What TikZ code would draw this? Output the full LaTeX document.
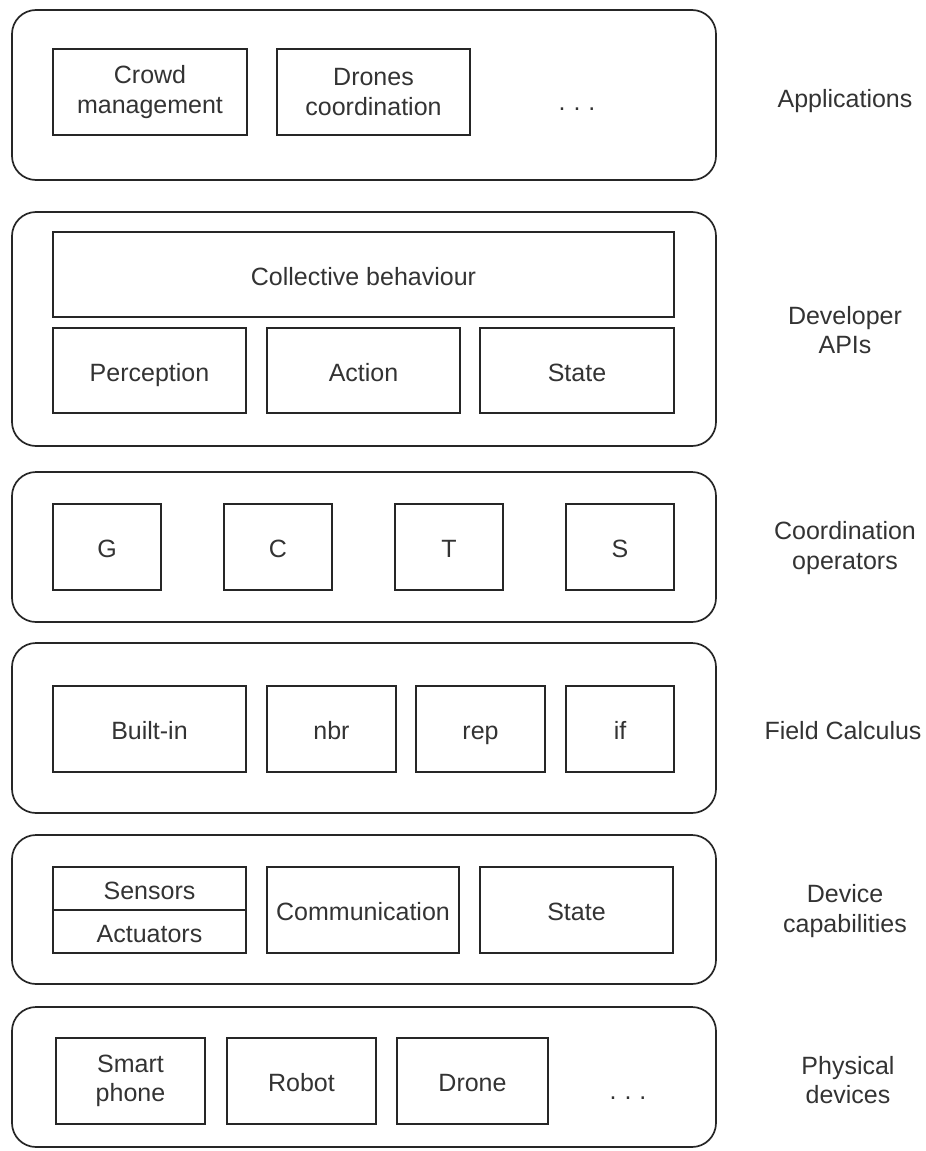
\documentclass[tikz,border=0pt]{standalone}
\usepackage{fontspec}
\setmainfont{Liberation Sans}
\begin{document}
\begin{tikzpicture}[x=1pt,y=-1pt,
  every node/.style={font=\fontsize{25}{29.5}\selectfont, text=black!80},
  layer/.style={draw=black!85, line width=1.7pt, rounded corners=24pt, fill=white},
  box/.style={draw=black!85, line width=1.5pt, fill=white, inner sep=0pt, align=center,
    minimum height=86pt},
  one/.style={text height=22pt, text depth=1pt},
  lbl/.style={align=center, inner sep=0pt},
  dots/.style={anchor=base, inner sep=0pt}
]
\useasboundingbox (0,0) rectangle (926,1151);

% Layer outlines
\draw[layer] (12,10) rectangle (716,180);
\draw[layer] (12,212) rectangle (716,446);
\draw[layer] (12,472) rectangle (716,622);
\draw[layer] (12,643) rectangle (716,813);
\draw[layer] (12,835) rectangle (716,984);
\draw[layer] (12,1007) rectangle (716,1147);

% Applications
\node[box, minimum width=194pt] (crowd) at (150,92) {Crowd\\management};
\node[box, minimum width=193pt] (drones) at (373.5,92) {Drones\\coordination};
\node[dots] (appdots) at (577,110) {.\hspace{8pt}.\hspace{8pt}.};
\node[lbl, one] (applab) at (845,97) {Applications};

% Developer APIs
\node[box, one, minimum width=621pt, minimum height=85pt] (collective) at (363.5,274.5) {Collective behaviour};
\node[box, one, minimum width=193pt, minimum height=85pt] (perception) at (149.5,370.5) {Perception};
\node[box, one, minimum width=193pt, minimum height=85pt] (action) at (363.5,370.5) {Action};
\node[box, one, minimum width=194pt, minimum height=85pt] (apistate) at (577,370.5) {State};
\node[lbl] (apilab) at (845,330) {Developer\\APIs};

% Coordination operators
\node[box, one, minimum width=108pt] (opG) at (107,547) {G};
\node[box, one, minimum width=108pt] (opC) at (278,547) {C};
\node[box, one, minimum width=108pt] (opT) at (449,547) {T};
\node[box, one, minimum width=108pt] (opS) at (620,547) {S};
\node[lbl] (coordlab) at (845,548) {Coordination\\operators};

% Field Calculus
\node[box, one, minimum width=193pt] (builtin) at (149.5,729) {Built-in};
\node[box, one, minimum width=129pt] (nbr) at (331.5,729) {nbr};
\node[box, one, minimum width=129pt] (rep) at (480.5,729) {rep};
\node[box, one, minimum width=108pt] (iff) at (620,729) {if};
\node[lbl, one] (fclab) at (843,729) {Field Calculus};

% Device capabilities
\node[box, one, minimum width=193pt, minimum height=43pt] (sensors) at (149.5,888.5) {Sensors};
\node[box, one, minimum width=193pt, minimum height=43pt] (actuators) at (149.5,931.5) {Actuators};
\node[box, one, minimum width=192pt] (comm) at (363,910) {Communication};
\node[box, one, minimum width=193pt] (devstate) at (576.5,910) {State};
\node[lbl] (devlab) at (845,911) {Device\\capabilities};

% Physical devices
\node[box, minimum width=149pt] (phone) at (130.5,1081) {Smart\\phone};
\node[box, one, minimum width=149pt] (robot) at (301.5,1081) {Robot};
\node[box, one, minimum width=151pt] (drone) at (472.5,1081) {Drone};
\node[dots] (physdots) at (628,1099) {.\hspace{8pt}.\hspace{8pt}.};
\node[lbl] (physlab) at (848,1080) {Physical\\devices};
\end{tikzpicture}
\end{document}
